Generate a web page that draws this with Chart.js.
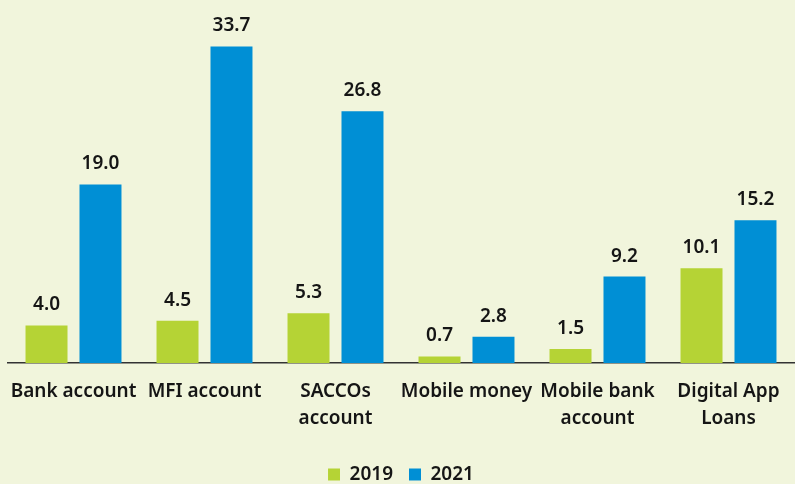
<!DOCTYPE html>
<html>
<head>
<meta charset="utf-8">
<script src="https://cdn.jsdelivr.net/npm/chart.js@4"></script>
<style>
  html, body { margin: 0; padding: 0; background: #f1f5dc; }
  #wrap { width: 795px; height: 484px; position: relative; }
</style>
</head>
<body>
<div id="wrap"><canvas id="c"></canvas></div>
<script>
const categories = [
  'Bank account',
  'MFI account',
  ['SACCOs', 'account'],
  'Mobile money',
  ['Mobile bank', 'account'],
  ['Digital App', 'Loans']
];
const values2019 = [4.0, 4.5, 5.3, 0.7, 1.5, 10.1];
const values2021 = [19.0, 33.7, 26.8, 2.8, 9.2, 15.2];
const seriesNames = ['2019', '2021'];

const FONT = "'Noto Sans', Lato, sans-serif";
const TEXT = '#151515';

// Writes each bar's value above it
const valueLabels = {
  id: 'valueLabels',
  afterDatasetsDraw(chart) {
    const ctx = chart.ctx;
    ctx.save();
    ctx.font = "600 19px " + FONT;
    ctx.fillStyle = TEXT;
    ctx.textAlign = 'center';
    ctx.textBaseline = 'bottom';
    chart.data.datasets.forEach((ds, i) => {
      chart.getDatasetMeta(i).data.forEach((bar, j) => {
        ctx.fillText(ds.data[j].toFixed(1), bar.x, bar.y - 11);
      });
    });
    ctx.restore();
  }
};

new Chart(document.getElementById('c'), {
  type: 'bar',
  data: {
    labels: categories,
    datasets: [
      { label: seriesNames[0], data: values2019, backgroundColor: '#b5d335' },
      { label: seriesNames[1], data: values2021, backgroundColor: '#008fd5' }
    ]
  },
  options: {
    responsive: true,
    maintainAspectRatio: false,
    animation: false,
    layout: { padding: { left: 8, right: 1, top: 6, bottom: -10 } },
    datasets: { bar: { categoryPercentage: 0.824, barPercentage: 0.778 } },
    plugins: {
      tooltip: { enabled: false },
      legend: {
        position: 'bottom',
        labels: {
          boxWidth: 12, boxHeight: 12, padding: 16,
          color: TEXT,
          font: { family: FONT, size: 19, weight: '600' }
        }
      }
    },
    scales: {
      x: {
        grid: { display: false },
        border: { display: true, color: '#333', width: 1.5 },
        ticks: {
          color: TEXT,
          padding: 7,
          maxRotation: 0,
          autoSkip: false,
          font: { family: FONT, size: 19, weight: '600', lineHeight: 1.42 }
        },
        afterFit(scale) { scale.height += 10; }
      },
      y: {
        display: false,
        min: 0,
        max: 38
      }
    }
  },
  plugins: [valueLabels]
});
</script>
</body>
</html>
